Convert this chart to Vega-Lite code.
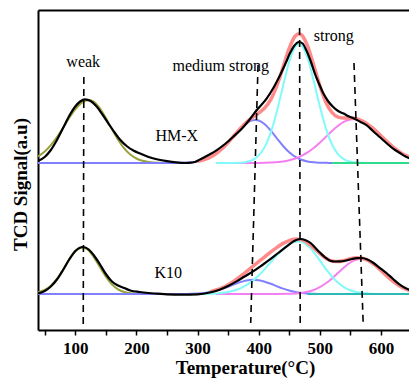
{
  "$schema": "https://vega.github.io/schema/vega-lite/v6.json",
  "autosize": "none",
  "padding": {"left": 38, "top": 10, "right": 0, "bottom": 51},
  "width": 371,
  "height": 320,
  "background": "white",
  "config": {"view": {"stroke": null}},
  "datasets": {
    "weak": [
      {"sample":"HM-X","T":39,"signal":1.735},{"sample":"HM-X","T":50,"signal":1.785},{"sample":"HM-X","T":60,"signal":1.848},{"sample":"HM-X","T":70,"signal":1.929},{"sample":"HM-X","T":80,"signal":2.023},{"sample":"HM-X","T":90,"signal":2.12},{"sample":"HM-X","T":100,"signal":2.207},{"sample":"HM-X","T":110,"signal":2.271},{"sample":"HM-X","T":122,"signal":2.30},{"sample":"HM-X","T":130,"signal":2.283},{"sample":"HM-X","T":140,"signal":2.218},{"sample":"HM-X","T":150,"signal":2.119},{"sample":"HM-X","T":160,"signal":2.007},{"sample":"HM-X","T":170,"signal":1.903},{"sample":"HM-X","T":180,"signal":1.817},{"sample":"HM-X","T":190,"signal":1.755},{"sample":"HM-X","T":200,"signal":1.715},{"sample":"HM-X","T":210,"signal":1.692},{"sample":"HM-X","T":220,"signal":1.68},{"sample":"HM-X","T":235,"signal":1.672},{"sample":"HM-X","T":250,"signal":1.67},
      {"sample":"K10","T":39,"signal":0.376},{"sample":"K10","T":50,"signal":0.40},{"sample":"K10","T":60,"signal":0.443},{"sample":"K10","T":70,"signal":0.511},{"sample":"K10","T":80,"signal":0.602},{"sample":"K10","T":90,"signal":0.702},{"sample":"K10","T":100,"signal":0.784},{"sample":"K10","T":112,"signal":0.825},{"sample":"K10","T":120,"signal":0.805},{"sample":"K10","T":130,"signal":0.732},{"sample":"K10","T":140,"signal":0.632},{"sample":"K10","T":150,"signal":0.533},{"sample":"K10","T":160,"signal":0.456},{"sample":"K10","T":170,"signal":0.406},{"sample":"K10","T":180,"signal":0.380},{"sample":"K10","T":190,"signal":0.367},{"sample":"K10","T":205,"signal":0.361},{"sample":"K10","T":220,"signal":0.36}
    ],
    "medium": [
      {"sample":"HM-X","T":39,"signal":1.67},{"sample":"HM-X","T":260,"signal":1.671},{"sample":"HM-X","T":290,"signal":1.678},{"sample":"HM-X","T":300,"signal":1.686},{"sample":"HM-X","T":310,"signal":1.701},{"sample":"HM-X","T":320,"signal":1.725},{"sample":"HM-X","T":330,"signal":1.762},{"sample":"HM-X","T":340,"signal":1.812},{"sample":"HM-X","T":350,"signal":1.875},{"sample":"HM-X","T":360,"signal":1.945},{"sample":"HM-X","T":370,"signal":2.012},{"sample":"HM-X","T":380,"signal":2.066},{"sample":"HM-X","T":390,"signal":2.096},{"sample":"HM-X","T":395,"signal":2.10},{"sample":"HM-X","T":400,"signal":2.095},{"sample":"HM-X","T":410,"signal":2.058},{"sample":"HM-X","T":420,"signal":1.993},{"sample":"HM-X","T":430,"signal":1.915},{"sample":"HM-X","T":440,"signal":1.84},{"sample":"HM-X","T":450,"signal":1.777},{"sample":"HM-X","T":460,"signal":1.732},{"sample":"HM-X","T":470,"signal":1.703},{"sample":"HM-X","T":480,"signal":1.686},{"sample":"HM-X","T":490,"signal":1.677},{"sample":"HM-X","T":500,"signal":1.673},{"sample":"HM-X","T":515,"signal":1.671},{"sample":"HM-X","T":530,"signal":1.67},
      {"sample":"K10","T":39,"signal":0.36},{"sample":"K10","T":280,"signal":0.361},{"sample":"K10","T":300,"signal":0.365},{"sample":"K10","T":320,"signal":0.378},{"sample":"K10","T":340,"signal":0.41},{"sample":"K10","T":350,"signal":0.432},{"sample":"K10","T":360,"signal":0.457},{"sample":"K10","T":370,"signal":0.479},{"sample":"K10","T":380,"signal":0.496},{"sample":"K10","T":391,"signal":0.503},{"sample":"K10","T":400,"signal":0.498},{"sample":"K10","T":410,"signal":0.483},{"sample":"K10","T":420,"signal":0.462},{"sample":"K10","T":430,"signal":0.437},{"sample":"K10","T":440,"signal":0.414},{"sample":"K10","T":450,"signal":0.395},{"sample":"K10","T":460,"signal":0.381},{"sample":"K10","T":475,"signal":0.368},{"sample":"K10","T":490,"signal":0.363},{"sample":"K10","T":510,"signal":0.3605},{"sample":"K10","T":530,"signal":0.36}
    ],
    "strong2": [
      {"sample":"HM-X","T":340,"signal":1.67},{"sample":"HM-X","T":400,"signal":1.671},{"sample":"HM-X","T":420,"signal":1.675},{"sample":"HM-X","T":440,"signal":1.686},{"sample":"HM-X","T":450,"signal":1.698},{"sample":"HM-X","T":460,"signal":1.715},{"sample":"HM-X","T":470,"signal":1.741},{"sample":"HM-X","T":480,"signal":1.776},{"sample":"HM-X","T":490,"signal":1.82},{"sample":"HM-X","T":500,"signal":1.873},{"sample":"HM-X","T":510,"signal":1.931},{"sample":"HM-X","T":520,"signal":1.99},{"sample":"HM-X","T":530,"signal":2.042},{"sample":"HM-X","T":540,"signal":2.083},{"sample":"HM-X","T":550,"signal":2.106},{"sample":"HM-X","T":556,"signal":2.11},{"sample":"HM-X","T":560,"signal":2.108},{"sample":"HM-X","T":570,"signal":2.089},{"sample":"HM-X","T":580,"signal":2.052},{"sample":"HM-X","T":590,"signal":2.001},{"sample":"HM-X","T":600,"signal":1.943},{"sample":"HM-X","T":610,"signal":1.884},{"sample":"HM-X","T":620,"signal":1.83},{"sample":"HM-X","T":630,"signal":1.784},{"sample":"HM-X","T":640,"signal":1.747},{"sample":"HM-X","T":650,"signal":1.72},
      {"sample":"K10","T":330,"signal":0.36},{"sample":"K10","T":430,"signal":0.3604},{"sample":"K10","T":450,"signal":0.362},{"sample":"K10","T":470,"signal":0.371},{"sample":"K10","T":480,"signal":0.382},{"sample":"K10","T":490,"signal":0.40},{"sample":"K10","T":500,"signal":0.428},{"sample":"K10","T":510,"signal":0.467},{"sample":"K10","T":520,"signal":0.516},{"sample":"K10","T":530,"signal":0.572},{"sample":"K10","T":540,"signal":0.628},{"sample":"K10","T":550,"signal":0.675},{"sample":"K10","T":560,"signal":0.704},{"sample":"K10","T":567,"signal":0.71},{"sample":"K10","T":575,"signal":0.702},{"sample":"K10","T":585,"signal":0.671},{"sample":"K10","T":595,"signal":0.623},{"sample":"K10","T":605,"signal":0.567},{"sample":"K10","T":615,"signal":0.511},{"sample":"K10","T":625,"signal":0.462},{"sample":"K10","T":635,"signal":0.425},{"sample":"K10","T":645,"signal":0.398},{"sample":"K10","T":650,"signal":0.388}
    ],
    "strong1": [
      {"sample":"HM-X","T":330,"signal":1.67},{"sample":"HM-X","T":370,"signal":1.673},{"sample":"HM-X","T":380,"signal":1.681},{"sample":"HM-X","T":390,"signal":1.70},{"sample":"HM-X","T":400,"signal":1.744},{"sample":"HM-X","T":410,"signal":1.831},{"sample":"HM-X","T":420,"signal":1.979},{"sample":"HM-X","T":430,"signal":2.191},{"sample":"HM-X","T":440,"signal":2.443},{"sample":"HM-X","T":450,"signal":2.681},{"sample":"HM-X","T":460,"signal":2.833},{"sample":"HM-X","T":466,"signal":2.86},{"sample":"HM-X","T":470,"signal":2.848},{"sample":"HM-X","T":480,"signal":2.72},{"sample":"HM-X","T":490,"signal":2.494},{"sample":"HM-X","T":500,"signal":2.239},{"sample":"HM-X","T":510,"signal":2.016},{"sample":"HM-X","T":520,"signal":1.855},{"sample":"HM-X","T":530,"signal":1.757},{"sample":"HM-X","T":540,"signal":1.706},{"sample":"HM-X","T":550,"signal":1.683},{"sample":"HM-X","T":560,"signal":1.674},{"sample":"HM-X","T":575,"signal":1.67},{"sample":"HM-X","T":650,"signal":1.67},
      {"sample":"K10","T":300,"signal":0.36},{"sample":"K10","T":320,"signal":0.363},{"sample":"K10","T":340,"signal":0.371},{"sample":"K10","T":350,"signal":0.38},{"sample":"K10","T":360,"signal":0.395},{"sample":"K10","T":370,"signal":0.417},{"sample":"K10","T":380,"signal":0.448},{"sample":"K10","T":390,"signal":0.491},{"sample":"K10","T":400,"signal":0.545},{"sample":"K10","T":410,"signal":0.609},{"sample":"K10","T":420,"signal":0.679},{"sample":"K10","T":430,"signal":0.749},{"sample":"K10","T":440,"signal":0.811},{"sample":"K10","T":450,"signal":0.858},{"sample":"K10","T":460,"signal":0.883},{"sample":"K10","T":465,"signal":0.886},{"sample":"K10","T":470,"signal":0.881},{"sample":"K10","T":480,"signal":0.845},{"sample":"K10","T":490,"signal":0.779},{"sample":"K10","T":500,"signal":0.696},{"sample":"K10","T":510,"signal":0.611},{"sample":"K10","T":520,"signal":0.534},{"sample":"K10","T":530,"signal":0.472},{"sample":"K10","T":540,"signal":0.427},{"sample":"K10","T":550,"signal":0.398},{"sample":"K10","T":560,"signal":0.380},{"sample":"K10","T":570,"signal":0.369},{"sample":"K10","T":585,"signal":0.363},{"sample":"K10","T":600,"signal":0.361},{"sample":"K10","T":650,"signal":0.36}
    ],
    "baseline": [
      {"sample":"HM-X","T":520,"signal":1.67},{"sample":"HM-X","T":650,"signal":1.67},
      {"sample":"K10","T":480,"signal":0.36},{"sample":"K10","T":650,"signal":0.36}
    ],
    "fit": [
      {"sample":"HM-X","T":300,"signal":1.686},{"sample":"HM-X","T":310,"signal":1.701},{"sample":"HM-X","T":320,"signal":1.725},{"sample":"HM-X","T":330,"signal":1.762},{"sample":"HM-X","T":340,"signal":1.812},{"sample":"HM-X","T":350,"signal":1.875},{"sample":"HM-X","T":360,"signal":1.945},{"sample":"HM-X","T":370,"signal":2.015},{"sample":"HM-X","T":380,"signal":2.077},{"sample":"HM-X","T":390,"signal":2.126},{"sample":"HM-X","T":400,"signal":2.17},{"sample":"HM-X","T":410,"signal":2.221},{"sample":"HM-X","T":420,"signal":2.307},{"sample":"HM-X","T":430,"signal":2.445},{"sample":"HM-X","T":440,"signal":2.629},{"sample":"HM-X","T":450,"signal":2.816},{"sample":"HM-X","T":460,"signal":2.94},{"sample":"HM-X","T":466,"signal":2.9625},{"sample":"HM-X","T":470,"signal":2.9515},{"sample":"HM-X","T":480,"signal":2.842},{"sample":"HM-X","T":490,"signal":2.651},{"sample":"HM-X","T":500,"signal":2.445},{"sample":"HM-X","T":510,"signal":2.278},{"sample":"HM-X","T":520,"signal":2.175},{"sample":"HM-X","T":530,"signal":2.129},{"sample":"HM-X","T":540,"signal":2.119},{"sample":"HM-X","T":550,"signal":2.119},{"sample":"HM-X","T":560,"signal":2.112},{"sample":"HM-X","T":570,"signal":2.089},{"sample":"HM-X","T":580,"signal":2.052},{"sample":"HM-X","T":590,"signal":2.001},{"sample":"HM-X","T":600,"signal":1.943},{"sample":"HM-X","T":610,"signal":1.884},{"sample":"HM-X","T":620,"signal":1.83},{"sample":"HM-X","T":630,"signal":1.784},{"sample":"HM-X","T":640,"signal":1.747},{"sample":"HM-X","T":650,"signal":1.72},
      {"sample":"K10","T":320,"signal":0.381},{"sample":"K10","T":340,"signal":0.4205},{"sample":"K10","T":350,"signal":0.452},{"sample":"K10","T":360,"signal":0.491},{"sample":"K10","T":370,"signal":0.536},{"sample":"K10","T":380,"signal":0.5845},{"sample":"K10","T":390,"signal":0.634},{"sample":"K10","T":400,"signal":0.683},{"sample":"K10","T":410,"signal":0.732},{"sample":"K10","T":420,"signal":0.7805},{"sample":"K10","T":430,"signal":0.826},{"sample":"K10","T":440,"signal":0.866},{"sample":"K10","T":450,"signal":0.8945},{"sample":"K10","T":460,"signal":0.909},{"sample":"K10","T":470,"signal":0.9035},{"sample":"K10","T":480,"signal":0.872},{"sample":"K10","T":490,"signal":0.821},{"sample":"K10","T":500,"signal":0.765},{"sample":"K10","T":510,"signal":0.718},{"sample":"K10","T":520,"signal":0.69},{"sample":"K10","T":530,"signal":0.684},{"sample":"K10","T":540,"signal":0.695},{"sample":"K10","T":550,"signal":0.7126},{"sample":"K10","T":560,"signal":0.7235},{"sample":"K10","T":570,"signal":0.7184},{"sample":"K10","T":580,"signal":0.693},{"sample":"K10","T":590,"signal":0.65},{"sample":"K10","T":600,"signal":0.596},{"sample":"K10","T":610,"signal":0.538},{"sample":"K10","T":620,"signal":0.4855},{"sample":"K10","T":630,"signal":0.442},{"sample":"K10","T":640,"signal":0.41},{"sample":"K10","T":650,"signal":0.388}
    ],
    "measured": [
      {"sample":"HM-X","T":39,"signal":1.69},{"sample":"HM-X","T":50,"signal":1.73},{"sample":"HM-X","T":60,"signal":1.80},{"sample":"HM-X","T":70,"signal":1.90},{"sample":"HM-X","T":80,"signal":2.02},{"sample":"HM-X","T":90,"signal":2.14},{"sample":"HM-X","T":100,"signal":2.235},{"sample":"HM-X","T":108,"signal":2.285},{"sample":"HM-X","T":116,"signal":2.307},{"sample":"HM-X","T":125,"signal":2.29},{"sample":"HM-X","T":135,"signal":2.235},{"sample":"HM-X","T":145,"signal":2.15},{"sample":"HM-X","T":157,"signal":2.04},{"sample":"HM-X","T":165,"signal":1.97},{"sample":"HM-X","T":173,"signal":1.905},{"sample":"HM-X","T":185,"signal":1.835},{"sample":"HM-X","T":195,"signal":1.795},{"sample":"HM-X","T":206,"signal":1.764},{"sample":"HM-X","T":220,"signal":1.73},{"sample":"HM-X","T":235,"signal":1.705},{"sample":"HM-X","T":250,"signal":1.688},{"sample":"HM-X","T":265,"signal":1.676},{"sample":"HM-X","T":280,"signal":1.67},{"sample":"HM-X","T":292,"signal":1.675},{"sample":"HM-X","T":304,"signal":1.705},{"sample":"HM-X","T":318,"signal":1.75},{"sample":"HM-X","T":331,"signal":1.797},{"sample":"HM-X","T":345,"signal":1.86},{"sample":"HM-X","T":358,"signal":1.93},{"sample":"HM-X","T":375,"signal":2.03},{"sample":"HM-X","T":386,"signal":2.11},{"sample":"HM-X","T":397,"signal":2.2},{"sample":"HM-X","T":413,"signal":2.314},{"sample":"HM-X","T":425,"signal":2.43},{"sample":"HM-X","T":435,"signal":2.547},{"sample":"HM-X","T":445,"signal":2.68},{"sample":"HM-X","T":451,"signal":2.764},{"sample":"HM-X","T":458,"signal":2.84},{"sample":"HM-X","T":466,"signal":2.88},{"sample":"HM-X","T":472,"signal":2.865},{"sample":"HM-X","T":478,"signal":2.797},{"sample":"HM-X","T":485,"signal":2.69},{"sample":"HM-X","T":492,"signal":2.564},{"sample":"HM-X","T":499,"signal":2.46},{"sample":"HM-X","T":506,"signal":2.364},{"sample":"HM-X","T":514,"signal":2.285},{"sample":"HM-X","T":522,"signal":2.23},{"sample":"HM-X","T":530,"signal":2.19},{"sample":"HM-X","T":539,"signal":2.164},{"sample":"HM-X","T":548,"signal":2.135},{"sample":"HM-X","T":556,"signal":2.114},{"sample":"HM-X","T":566,"signal":2.083},{"sample":"HM-X","T":577,"signal":2.047},{"sample":"HM-X","T":587,"signal":1.99},{"sample":"HM-X","T":598,"signal":1.93},{"sample":"HM-X","T":609,"signal":1.87},{"sample":"HM-X","T":620,"signal":1.814},{"sample":"HM-X","T":631,"signal":1.77},{"sample":"HM-X","T":642,"signal":1.73},{"sample":"HM-X","T":650,"signal":1.71},
      {"sample":"K10","T":39,"signal":0.365},{"sample":"K10","T":50,"signal":0.39},{"sample":"K10","T":60,"signal":0.435},{"sample":"K10","T":70,"signal":0.505},{"sample":"K10","T":80,"signal":0.60},{"sample":"K10","T":90,"signal":0.705},{"sample":"K10","T":100,"signal":0.79},{"sample":"K10","T":113,"signal":0.83},{"sample":"K10","T":122,"signal":0.805},{"sample":"K10","T":130,"signal":0.75},{"sample":"K10","T":140,"signal":0.66},{"sample":"K10","T":150,"signal":0.56},{"sample":"K10","T":160,"signal":0.485},{"sample":"K10","T":170,"signal":0.445},{"sample":"K10","T":180,"signal":0.42},{"sample":"K10","T":190,"signal":0.395},{"sample":"K10","T":205,"signal":0.38},{"sample":"K10","T":220,"signal":0.37},{"sample":"K10","T":235,"signal":0.363},{"sample":"K10","T":250,"signal":0.356},{"sample":"K10","T":275,"signal":0.353},{"sample":"K10","T":300,"signal":0.357},{"sample":"K10","T":320,"signal":0.375},{"sample":"K10","T":336,"signal":0.403},{"sample":"K10","T":350,"signal":0.44},{"sample":"K10","T":364,"signal":0.486},{"sample":"K10","T":377,"signal":0.535},{"sample":"K10","T":391,"signal":0.586},{"sample":"K10","T":405,"signal":0.645},{"sample":"K10","T":418,"signal":0.703},{"sample":"K10","T":432,"signal":0.77},{"sample":"K10","T":446,"signal":0.836},{"sample":"K10","T":458,"signal":0.89},{"sample":"K10","T":468,"signal":0.91},{"sample":"K10","T":476,"signal":0.90},{"sample":"K10","T":485,"signal":0.87},{"sample":"K10","T":493,"signal":0.82},{"sample":"K10","T":501,"signal":0.77},{"sample":"K10","T":509,"signal":0.725},{"sample":"K10","T":517,"signal":0.693},{"sample":"K10","T":525,"signal":0.685},{"sample":"K10","T":534,"signal":0.686},{"sample":"K10","T":543,"signal":0.695},{"sample":"K10","T":553,"signal":0.71},{"sample":"K10","T":561,"signal":0.718},{"sample":"K10","T":569,"signal":0.72},{"sample":"K10","T":578,"signal":0.705},{"sample":"K10","T":588,"signal":0.67},{"sample":"K10","T":598,"signal":0.622},{"sample":"K10","T":609,"signal":0.57},{"sample":"K10","T":620,"signal":0.51},{"sample":"K10","T":631,"signal":0.453},{"sample":"K10","T":640,"signal":0.42},{"sample":"K10","T":650,"signal":0.395}
    ],
    "peaks": [
      {"T1":114,"T2":113,"v1":2.53,"v2":0.03},
      {"T1":399,"T2":387,"v1":2.65,"v2":0.07},
      {"T1":467,"T2":468,"v1":3.02,"v2":0.05},
      {"T1":556,"T2":571,"v1":2.67,"v2":0.07}
    ],
    "labels": [
      {"label":"weak","T":113,"signal":2.68},
      {"label":"medium strong","T":338,"signal":2.64},
      {"label":"strong","T":523,"signal":2.94},
      {"label":"HM-X","T":266,"signal":1.94},
      {"label":"K10","T":252,"signal":0.567}
    ]
  },
  "resolve": {"axis": {"x": "independent", "y": "independent"}},
  "layer": [
    {
      "data": {"name": "weak"},
      "mark": {"type": "line", "interpolate": "monotone", "color": "#9aa03a", "strokeWidth": 2, "clip": true},
      "encoding": {
        "x": {"field": "T", "type": "quantitative", "scale": {"domain": [39, 646], "nice": false},
          "axis": {"values": [50,100,150,200,250,300,350,400,450,500,550,600],
            "labelExpr": "datum.value % 100 === 0 ? datum.label : ''",
            "title": "Temperature(°C)", "grid": false, "labelOverlap": false, "labelFlush": false,
            "domainColor": "#000", "domainWidth": 2, "tickColor": "#000", "tickWidth": 1.5, "tickSize": 5,
            "labelFont": "Liberation Serif", "labelFontWeight": "bold", "labelFontSize": 17, "labelColor": "#000", "labelPadding": 5,
            "titleFont": "Liberation Serif", "titleFontWeight": "bold", "titleFontSize": 19, "titleColor": "#000", "titlePadding": 2, "titleX": 207}},
        "y": {"field": "signal", "type": "quantitative", "scale": {"domain": [0, 3.2], "nice": false, "zero": false},
          "axis": {"title": "TCD Signal(a.u)", "ticks": false, "labels": false, "grid": false,
            "domainColor": "#000", "domainWidth": 2,
            "titleFont": "Liberation Serif", "titleFontWeight": "bold", "titleFontSize": 19, "titleColor": "#000", "titlePadding": 8, "titleY": 174}},
        "detail": {"field": "sample"}
      }
    },
    {
      "data": {"name": "medium"},
      "mark": {"type": "line", "interpolate": "monotone", "color": "#8080ff", "strokeWidth": 2, "clip": true},
      "encoding": {
        "x": {"field": "T", "type": "quantitative", "scale": {"domain": [39, 646], "nice": false}, "axis": null},
        "y": {"field": "signal", "type": "quantitative", "scale": {"domain": [0, 3.2], "nice": false, "zero": false}, "axis": null},
        "detail": {"field": "sample"}
      }
    },
    {
      "data": {"name": "strong2"},
      "mark": {"type": "line", "interpolate": "monotone", "color": "#f57ff0", "strokeWidth": 2, "clip": true},
      "encoding": {
        "x": {"field": "T", "type": "quantitative", "scale": {"domain": [39, 646], "nice": false}, "axis": null},
        "y": {"field": "signal", "type": "quantitative", "scale": {"domain": [0, 3.2], "nice": false, "zero": false}, "axis": null},
        "detail": {"field": "sample"}
      }
    },
    {
      "data": {"name": "strong1"},
      "mark": {"type": "line", "interpolate": "monotone", "color": "#80fafa", "strokeWidth": 2, "clip": true},
      "encoding": {
        "x": {"field": "T", "type": "quantitative", "scale": {"domain": [39, 646], "nice": false}, "axis": null},
        "y": {"field": "signal", "type": "quantitative", "scale": {"domain": [0, 3.2], "nice": false, "zero": false}, "axis": null},
        "detail": {"field": "sample"}
      }
    },
    {
      "data": {"name": "baseline"},
      "mark": {"type": "line", "strokeWidth": 2, "clip": true},
      "encoding": {
        "x": {"field": "T", "type": "quantitative", "scale": {"domain": [39, 646], "nice": false}, "axis": null},
        "y": {"field": "signal", "type": "quantitative", "scale": {"domain": [0, 3.2], "nice": false, "zero": false}, "axis": null},
        "color": {"field": "sample", "type": "nominal", "scale": {"domain": ["HM-X", "K10"], "range": ["#30dc8c", "#2cb8b4"]}, "legend": null}
      }
    },
    {
      "data": {"name": "fit"},
      "mark": {"type": "line", "interpolate": "monotone", "color": "#ff8a8a", "strokeWidth": 3.5, "clip": true},
      "encoding": {
        "x": {"field": "T", "type": "quantitative", "scale": {"domain": [39, 646], "nice": false}, "axis": null},
        "y": {"field": "signal", "type": "quantitative", "scale": {"domain": [0, 3.2], "nice": false, "zero": false}, "axis": null},
        "detail": {"field": "sample"}
      }
    },
    {
      "data": {"name": "measured"},
      "mark": {"type": "line", "interpolate": "monotone", "color": "#000000", "strokeWidth": 2.2, "clip": true},
      "encoding": {
        "x": {"field": "T", "type": "quantitative", "scale": {"domain": [39, 646], "nice": false}, "axis": null},
        "y": {"field": "signal", "type": "quantitative", "scale": {"domain": [0, 3.2], "nice": false, "zero": false}, "axis": null},
        "detail": {"field": "sample"}
      }
    },
    {
      "data": {"name": "peaks"},
      "mark": {"type": "rule", "color": "#000", "strokeWidth": 1.6, "strokeDash": [7, 5]},
      "encoding": {
        "x": {"field": "T1", "type": "quantitative", "scale": {"domain": [39, 646], "nice": false},
          "axis": {"orient": "top", "labels": false, "ticks": false, "grid": false, "title": null, "domainColor": "#000", "domainWidth": 2}},
        "x2": {"field": "T2"},
        "y": {"field": "v1", "type": "quantitative", "scale": {"domain": [0, 3.2], "nice": false, "zero": false}, "axis": null},
        "y2": {"field": "v2"}
      }
    },
    {
      "data": {"name": "labels"},
      "mark": {"type": "text", "font": "Liberation Serif", "fontSize": 16, "color": "#000", "align": "center", "baseline": "middle"},
      "encoding": {
        "x": {"field": "T", "type": "quantitative", "scale": {"domain": [39, 646], "nice": false}, "axis": null},
        "y": {"field": "signal", "type": "quantitative", "scale": {"domain": [0, 3.2], "nice": false, "zero": false}, "axis": null},
        "text": {"field": "label"}
      }
    }
  ]
}
